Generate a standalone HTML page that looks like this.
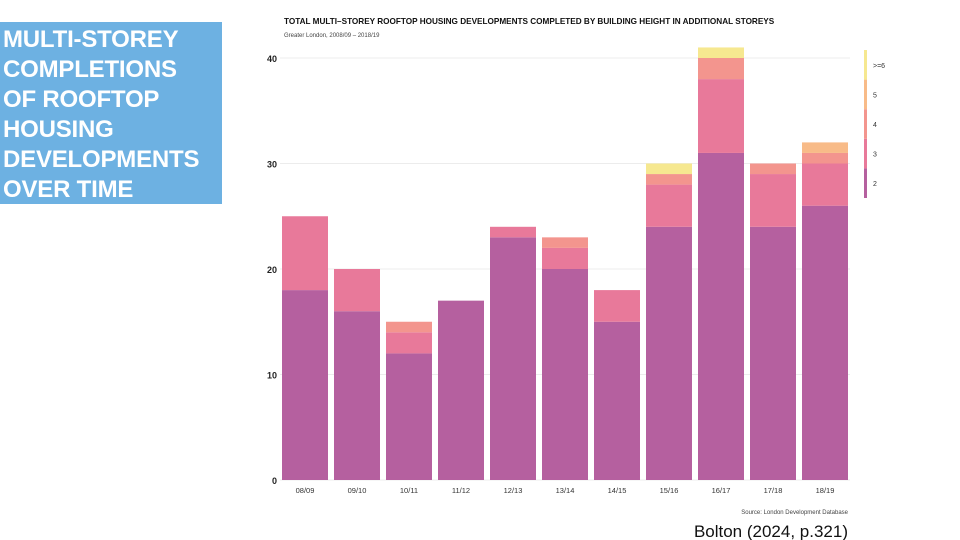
<!DOCTYPE html>
<html><head><meta charset="utf-8"><style>
body{margin:0;width:960px;height:540px;background:#fff;position:relative;overflow:hidden;font-family:"Liberation Sans",sans-serif}
#box{position:absolute;left:0;top:22px;width:222px;height:182px;background:#6db1e2;color:#fff;font-weight:bold;font-size:24px;line-height:30px;padding:3px 0 0 3px;box-sizing:border-box;letter-spacing:-0.2px}
</style></head><body>
<div id="box">MULTI-STOREY<br>COMPLETIONS<br>OF ROOFTOP<br>HOUSING<br>DEVELOPMENTS<br>OVER TIME</div>
<svg id="c" width="960" height="540" style="position:absolute;left:0;top:0"></svg>
<script>
const categories=["08/09","09/10","10/11","11/12","12/13","13/14","14/15","15/16","16/17","17/18","18/19"];
const s2=[18,16,12,17,23,20,15,24,31,24,26];
const s3=[7,4,2,0,1,2,3,4,7,5,4];
const s4=[0,0,1,0,0,1,0,1,2,1,1];
const s5=[0,0,0,0,0,0,0,0,0,0,1];
const s6=[0,0,0,0,0,0,0,1,1,0,0];
const yTicks=[0,10,20,30,40];
const seriesNames=["2","3","4","5",">=6"];
const NS="http://www.w3.org/2000/svg";
const svg=document.getElementById('c');
const series=[s2,s3,s4,s5,s6];
const colors=["#b5609f","#e8799a","#f3958e","#f8bb88","#f6e890"];
const y=v=>480-v*10.55;
const x=i=>282+i*52;
const bw=46;
function mk(t,a,txt){const e=document.createElementNS(NS,t);for(const k in a)e.setAttribute(k,a[k]);if(txt!==undefined)e.textContent=txt;svg.appendChild(e);return e;}
yTicks.forEach(v=>{
 const g=mk('line',{x1:280,x2:850,y1:y(v),y2:y(v),stroke:'#ececec','stroke-width':1});
 
 
 const t=mk('text',{x:277,y:y(v)+4,'text-anchor':'end','font-size':9,'font-weight':'bold',fill:'#222'},v);
 
 
});
categories.forEach((c,i)=>{
 let base=0;
 series.forEach((s,k)=>{
  if(s[i]>0){
   const r=mk('rect',{x:x(i),y:y(base+s[i]),width:bw,height:y(base)-y(base+s[i]),fill:colors[k]});
   
   
  }
  base+=s[i];
 });
 const t=mk('text',{x:x(i)+bw/2,y:493,'text-anchor':'middle','font-size':7.5,fill:'#333'},c);
 
 
});
const ti=mk('text',{x:284,y:24,'font-size':8.2,'font-weight':'bold',fill:'#111'},'TOTAL MULTI–STOREY ROOFTOP HOUSING DEVELOPMENTS COMPLETED BY BUILDING HEIGHT IN ADDITIONAL STOREYS');


const st=mk('text',{x:284,y:37,'font-size':6,fill:'#444'},'Greater London, 2008/09 – 2018/19');


const src=mk('text',{x:848,y:514,'text-anchor':'end','font-size':6,fill:'#444'},'Source: London Development Database');


const cite=mk('text',{x:848,y:537,'text-anchor':'end','font-size':17,fill:'#111'},'Bolton (2024, p.321)');


const legTop=50,legH=148,seg=legH/5;
for(let k=0;k<5;k++){
 const r=mk('rect',{x:864,y:legTop+(4-k)*seg,width:3,height:seg,fill:colors[k]});
 
 
 const t=mk('text',{x:873,y:legTop+(4-k)*seg+seg/2+3,'font-size':7,fill:'#333'},seriesNames[k]);
 
 
}
</script>
</body></html>
